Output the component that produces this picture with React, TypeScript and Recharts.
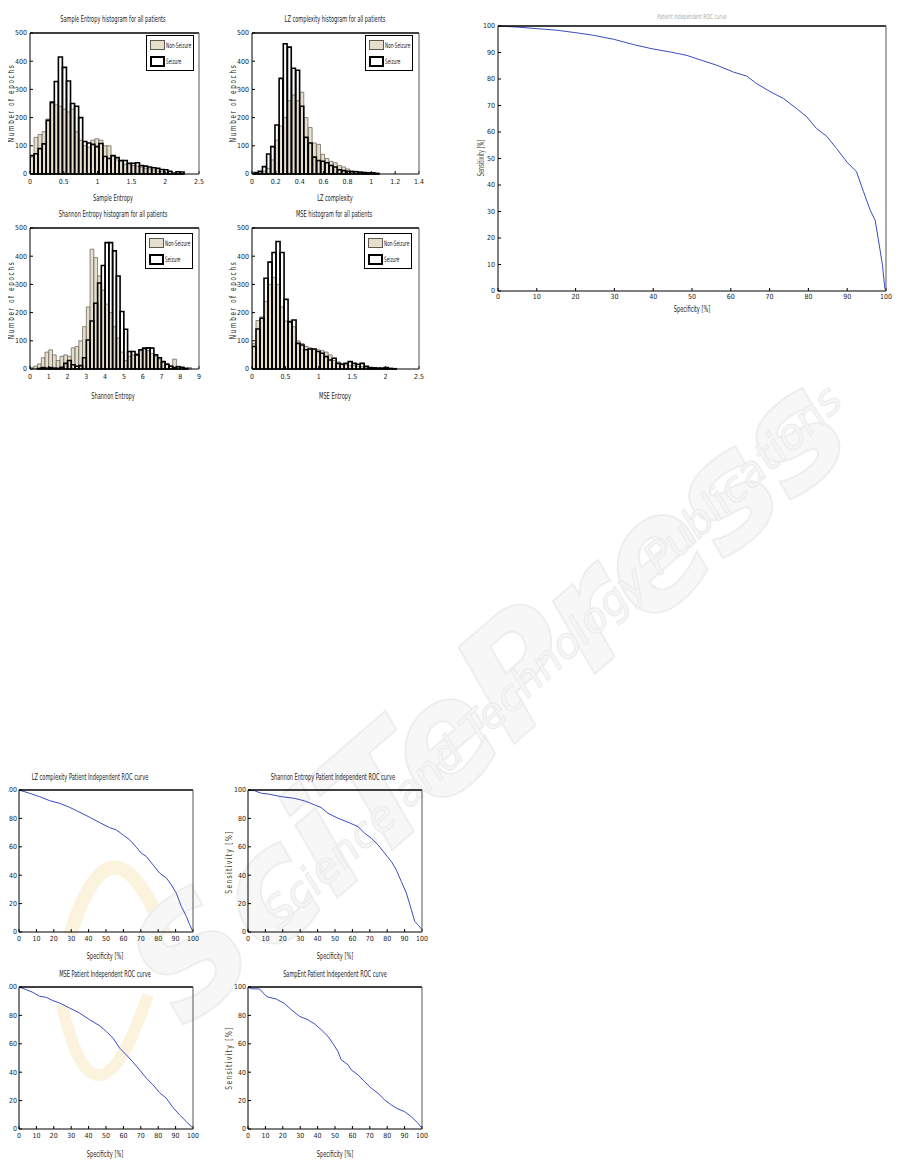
import React from "react"
import { BarChart, Bar, LineChart, Line, XAxis, YAxis } from "recharts"

const FONT = "'Liberation Sans Narrow', 'DejaVu Sans Condensed', 'Arial Narrow', sans-serif"
const TICK = { fontSize: 7, fill: "#222", fontFamily: FONT }

// ---- histogram data (bin centres + counts) ----
const sampBins = [0.03, 0.09, 0.15, 0.21, 0.27, 0.33, 0.39, 0.45, 0.51, 0.57, 0.63, 0.69, 0.75, 0.81, 0.87, 0.93, 0.99, 1.05, 1.11, 1.17, 1.23, 1.29, 1.35, 1.41, 1.47, 1.53, 1.59, 1.65, 1.71, 1.77, 1.83, 1.89, 1.95, 2.01, 2.07, 2.13, 2.19, 2.25]
const sampNon = [60, 130, 140, 150, 195, 250, 245, 240, 230, 220, 230, 150, 120, 100, 95, 120, 125, 120, 100, 100, 65, 50, 45, 35, 35, 30, 28, 25, 20, 18, 14, 10, 8, 5, 3, 2, 2, 1]
const sampSeiz = [65, 72, 90, 107, 190, 255, 328, 415, 378, 330, 250, 240, 200, 115, 110, 105, 97, 108, 62, 55, 65, 58, 48, 48, 38, 38, 40, 30, 28, 25, 22, 20, 16, 15, 10, 3, 8, 7]

const lzBins = [0.035, 0.07, 0.105, 0.14, 0.175, 0.21, 0.245, 0.28, 0.315, 0.35, 0.385, 0.42, 0.455, 0.49, 0.525, 0.56, 0.595, 0.63, 0.665, 0.7, 0.735, 0.77, 0.805, 0.84, 0.875, 0.91, 0.945, 0.98, 1.015, 1.05]
const lzNon = [3, 5, 10, 20, 50, 120, 170, 200, 260, 280, 260, 290, 200, 165, 110, 105, 70, 55, 45, 40, 30, 25, 18, 12, 10, 8, 6, 5, 4, 3]
const lzSeiz = [5, 10, 26, 71, 97, 174, 339, 462, 450, 375, 368, 240, 130, 110, 60, 48, 45, 40, 30, 25, 15, 12, 10, 8, 8, 6, 5, 4, 4, 2]

const shanBins = [0.1, 0.3, 0.5, 0.7, 0.9, 1.1, 1.3, 1.5, 1.7, 1.9, 2.1, 2.3, 2.5, 2.7, 2.9, 3.1, 3.3, 3.5, 3.7, 3.9, 4.1, 4.3, 4.5, 4.7, 4.9, 5.1, 5.3, 5.5, 5.7, 5.9, 6.1, 6.3, 6.5, 6.7, 6.9, 7.1, 7.3, 7.5, 7.7, 7.9, 8.1, 8.3, 8.5]
const shanNon = [5, 10, 18, 40, 60, 68, 50, 30, 45, 50, 45, 75, 80, 100, 150, 220, 425, 395, 330, 280, 230, 200, 150, 110, 60, 30, 45, 50, 55, 65, 70, 65, 55, 45, 35, 25, 20, 12, 35, 10, 5, 3, 5]
const shanSeiz = [0, 0, 2, 5, 3, 5, 3, 2, 6, 20, 30, 15, 10, 12, 40, 103, 170, 233, 305, 367, 448, 448, 419, 330, 204, 141, 62, 62, 50, 68, 74, 75, 74, 50, 40, 26, 17, 10, 5, 8, 6, 2, 0]

const mseBins = [0.03, 0.09, 0.15, 0.21, 0.27, 0.33, 0.39, 0.45, 0.51, 0.57, 0.63, 0.69, 0.75, 0.81, 0.87, 0.93, 0.99, 1.05, 1.11, 1.17, 1.23, 1.29, 1.35, 1.41, 1.47, 1.53, 1.59, 1.65, 1.71, 1.77, 1.83, 1.89, 1.95, 2.01, 2.07, 2.13]
const mseNon = [90, 172, 185, 240, 300, 325, 300, 220, 170, 165, 150, 100, 90, 80, 75, 70, 68, 65, 60, 50, 30, 25, 20, 15, 12, 12, 10, 8, 6, 5, 4, 3, 3, 2, 2, 1]
const mseSeiz = [80, 142, 180, 322, 379, 413, 452, 413, 247, 168, 174, 91, 85, 68, 71, 71, 62, 56, 44, 32, 38, 20, 17, 20, 26, 20, 17, 20, 10, 5, 4, 3, 3, 5, 2, 1]

const countTicks = [0, 100, 200, 300, 400, 500]

// ---- ROC data (specificity %, sensitivity %) ----
const allSpec = [0, 4.9, 10, 15.2, 19.9, 24.6, 29.8, 34.9, 39.7, 44.4, 48.7, 53, 56.4, 60.7, 64.1, 66.7, 70.1, 73.6, 77, 79.6, 82.1, 84.7, 87.3, 89.9, 92.4, 94.2, 95.9, 97.2, 98, 99.1, 99.7, 100]
const allSens = [100, 99.6, 99, 98.4, 97.5, 96.5, 95, 93, 91.4, 90.2, 88.9, 86.8, 85.2, 82.6, 81.1, 78.2, 75.3, 72.6, 68.8, 65.7, 61.3, 58.4, 53.7, 48.7, 45, 37.5, 30.6, 26.7, 19.7, 9.7, 0.9, 0]

const lzRocSpec = [0, 6.1, 11.9, 17.6, 23.4, 29.1, 34.9, 40.6, 46.4, 52.1, 55.9, 59.8, 63.6, 67.4, 70.3, 73.2, 77, 80.8, 84.7, 87.5, 90.4, 93.3, 96.2, 98.1, 100]
const lzRocSens = [100, 97.7, 95.3, 92.5, 90.6, 87.8, 84.3, 80.8, 77, 73.5, 71.9, 68.4, 64.9, 59.7, 55.5, 53.2, 47.3, 41.5, 38, 33.3, 27.4, 18, 11, 5.2, 0]

const shanRocSpec = [0, 3.8, 7.7, 11.5, 19.2, 26.8, 32.6, 38.3, 42.1, 46, 51.7, 57.5, 63.2, 67, 70.9, 74.7, 78.5, 82.4, 85.2, 88.1, 91, 93.9, 95.8, 97.7, 100]
const shanRocSens = [100, 99.5, 97.7, 97.2, 95.3, 94.1, 92.3, 89.5, 87.6, 83.6, 80.1, 77.3, 74.2, 69.6, 66, 61.4, 55.5, 49.6, 43.8, 35.6, 27.4, 15.7, 7.5, 5.2, 1.6]

const mseRocSpec = [0, 4.2, 8, 11.9, 15.7, 19.5, 23.4, 29.1, 34.9, 40.6, 46.4, 50.2, 54, 57.9, 61.7, 65.5, 69.3, 73.2, 77, 80.8, 84.7, 88.5, 92.3, 96.2, 100]
const mseRocSens = [100, 98.1, 96.2, 93.4, 92.7, 90.4, 88.7, 85.2, 81.6, 76.9, 72.7, 68.7, 64, 56.9, 52.2, 47.1, 41.6, 35.8, 31.1, 25.6, 21.6, 15.1, 9.9, 5.2, 0.5]

const sampRocSpec = [0, 1.9, 6.7, 9.6, 11.5, 16.3, 21.1, 24.9, 29.7, 34.5, 38.3, 42.1, 46, 48.9, 51.7, 53.6, 57.5, 59.4, 63.2, 67, 70.9, 74.7, 78.5, 82.4, 86.2, 90, 93.9, 97.7, 100]
const sampRocSens = [99.8, 98.8, 98.6, 94.6, 92.9, 91.5, 88.2, 84, 79.3, 76.9, 73.9, 69.9, 65.2, 60, 54.6, 48.7, 45.2, 41.6, 38.1, 33.4, 28.7, 25.2, 20.5, 16.9, 14.1, 12.2, 8.7, 4, 0.5]

const pctTicks10 = [0, 10, 20, 30, 40, 50, 60, 70, 80, 90, 100]
const pctTicks20 = [0, 20, 40, 60, 80, 100]

type Plot = { left: number; top: number; width: number; height: number }

const MT = 6
const MR = 6
const XH = 18

// chart box placed so that the plotting area lands on `p` (top/right axes take 1px)
function frame(p: Plot) {
  const yw = Math.min(34, p.left)
  return {
    yw,
    style: { position: "absolute", left: p.left - yw, top: p.top - MT - 1 } as React.CSSProperties,
    width: p.width + yw + MR + 1,
    height: p.height + MT + 1 + XH,
    margin: { top: MT, right: MR, bottom: 0, left: 0 },
  }
}

function Txt({ x, y, children, size = 8, rotate = 0, color = "#222", spacing = 0, sx = 0.7 }: any) {
  return (
    <div
      style={{
        position: "absolute",
        left: x,
        top: y,
        transform: `translate(-50%, -50%) rotate(${rotate}deg) scaleX(${sx})`,
        fontFamily: FONT,
        fontSize: size,
        color,
        letterSpacing: spacing,
        whiteSpace: "nowrap",
        lineHeight: 1,
      }}
    >
      {children}
    </div>
  )
}

function HistLegend({ left, top }: { left: number; top: number }) {
  const row: React.CSSProperties = { display: "flex", alignItems: "center", height: 16, marginLeft: 3, whiteSpace: "nowrap" }
  const lab: React.CSSProperties = { display: "inline-block", transform: "scaleX(0.62)", transformOrigin: "left center" }
  return (
    <div
      style={{
        position: "absolute",
        left,
        top,
        width: 48,
        height: 36,
        border: "1px solid #000",
        background: "#fff",
        boxSizing: "border-box",
        fontFamily: FONT,
        fontSize: 7.5,
        color: "#222",
        paddingTop: 1,
        overflow: "hidden",
      }}
    >
      <div style={row}>
        <span style={{ width: 15, height: 10, flex: "none", background: "#e6dfcd", border: "1px solid #5e5a50", boxSizing: "border-box", marginRight: 1 }} />
        <span style={lab}>Non-Seizure</span>
      </div>
      <div style={row}>
        <span style={{ width: 15, height: 11, flex: "none", background: "#fff", border: "2.5px solid #000", boxSizing: "border-box", marginRight: 1 }} />
        <span style={lab}>Seizure</span>
      </div>
    </div>
  )
}

function Histogram({ plot, bins, non, seiz, xMax, xTicks, barSize }: any) {
  const data = bins.map((b: number, i: number) => ({ x: b, non: non[i], seiz: seiz[i] }))
  const f = frame(plot)
  return (
    <div style={f.style}>
      <BarChart width={f.width} height={f.height} data={data} margin={f.margin}>
        <XAxis xAxisId="b" dataKey="x" type="number" domain={[0, xMax]} ticks={xTicks} interval={0} tickSize={-3} tickMargin={8} height={XH} tick={TICK} axisLine={{ stroke: "#000" }} tickLine={{ stroke: "#000" }} allowDataOverflow />
        <XAxis xAxisId="t" orientation="top" dataKey="x" type="number" domain={[0, xMax]} ticks={xTicks} interval={0} tickSize={-3} tick={false} height={1} axisLine={{ stroke: "#000", strokeWidth: 1.6 }} tickLine={{ stroke: "#000" }} allowDataOverflow />
        <YAxis yAxisId="l" type="number" domain={[0, 500]} ticks={countTicks} interval={0} width={f.yw} tickSize={-3} tickMargin={6} tick={TICK} axisLine={{ stroke: "#000" }} tickLine={{ stroke: "#000" }} />
        <YAxis yAxisId="r" orientation="right" type="number" domain={[0, 500]} ticks={countTicks} interval={0} width={1} tickSize={-3} tick={false} axisLine={{ stroke: "#555" }} tickLine={{ stroke: "#000" }} />
        <Bar xAxisId="b" yAxisId="l" dataKey="non" fill="#e6dfcd" stroke="#5e5a50" strokeWidth={0.7} barSize={barSize} isAnimationActive={false} />
        <Bar xAxisId="t" yAxisId="l" dataKey="seiz" fill="none" stroke="#000" strokeWidth={1.6} barSize={barSize} isAnimationActive={false} />
      </BarChart>
    </div>
  )
}

function Roc({ plot, spec, sens, yTicks, labelMargin, yMargin = 6 }: any) {
  const data = spec.map((s: number, i: number) => ({ spec: s, sens: sens[i] }))
  const f = frame(plot)
  return (
    <div style={f.style}>
      <LineChart width={f.width} height={f.height} data={data} margin={f.margin}>
        <XAxis xAxisId="b" dataKey="spec" type="number" domain={[0, 100]} ticks={pctTicks10} interval={0} tickSize={-3} tickMargin={labelMargin} height={XH} tick={TICK} axisLine={{ stroke: "#000" }} tickLine={{ stroke: "#000" }} />
        <XAxis xAxisId="t" orientation="top" dataKey="spec" type="number" domain={[0, 100]} ticks={pctTicks10} interval={0} tickSize={-3} tick={false} height={1} axisLine={{ stroke: "#000", strokeWidth: 1.6 }} tickLine={{ stroke: "#000" }} />
        <YAxis yAxisId="l" type="number" domain={[0, 100]} ticks={yTicks} interval={0} width={f.yw} tickSize={-3} tickMargin={yMargin} tick={TICK} axisLine={{ stroke: "#000" }} tickLine={{ stroke: "#000" }} />
        <YAxis yAxisId="r" orientation="right" type="number" domain={[0, 100]} ticks={yTicks} interval={0} width={1} tickSize={-3} tick={false} axisLine={{ stroke: "#555" }} tickLine={{ stroke: "#000" }} />
        <Line xAxisId="b" yAxisId="l" type="linear" dataKey="sens" stroke="#3a4cc0" strokeWidth={1} dot={false} isAnimationActive={false} />
      </LineChart>
    </div>
  )
}

export default function App() {
  return (
    <div style={{ position: "relative", width: 915, height: 1172 }}>
      {/* faint publisher watermark behind the figures */}
      <svg width={915} height={1172} style={{ position: "absolute", left: -8, top: -8 }}>
        <path d="M 70 935 Q 112 800 165 935" fill="none" stroke="#fcf3de" strokeWidth={14} />
        <path d="M 62 1005 Q 95 1150 148 995" fill="none" stroke="#fcf3de" strokeWidth={12} />
        <text x={185} y={1030} transform="rotate(-41 185 1030)" fontSize={150} fontFamily="DejaVu Sans" fontWeight="bold" fontStyle="italic" fill="#f7f7f7" stroke="#eeeeee" strokeWidth={2}>
          SciTePress
        </text>
        <text x={280} y={930} transform="rotate(-43 280 930)" fontSize={42} fontFamily="DejaVu Sans" fontStyle="italic" fill="#f6f6f6" stroke="#ececec" strokeWidth={1}>
          Science and Technology Publications
        </text>
      </svg>

      <div style={{ position: "absolute", left: -8, top: -8, width: 915, height: 1172 }}>
        {/* histograms */}
        <Txt x={113} y={20}>Sample Entropy histogram for all patients</Txt>
        <Histogram plot={{ left: 30, top: 33, width: 169, height: 141 }} bins={sampBins} non={sampNon} seiz={sampSeiz} xMax={2.5} xTicks={[0, 0.5, 1, 1.5, 2, 2.5]} barSize={4} />
        <HistLegend left={146} top={35} />
        <Txt x={113} y={199}>Sample Entropy</Txt>
        <Txt x={12} y={103} rotate={-90} spacing={2} sx={0.8}>Number of epochs</Txt>

        <Txt x={335} y={20}>LZ complexity histogram for all patients</Txt>
        <Histogram plot={{ left: 252, top: 33, width: 167, height: 141 }} bins={lzBins} non={lzNon} seiz={lzSeiz} xMax={1.4} xTicks={[0, 0.2, 0.4, 0.6, 0.8, 1, 1.2, 1.4]} barSize={4.2} />
        <HistLegend left={365} top={35} />
        <Txt x={335} y={199}>LZ complexity</Txt>
        <Txt x={234} y={103} rotate={-90} spacing={2} sx={0.8}>Number of epochs</Txt>

        <Txt x={113} y={215}>Shannon Entropy histogram for all patients</Txt>
        <Histogram plot={{ left: 30, top: 228, width: 169, height: 141 }} bins={shanBins} non={shanNon} seiz={shanSeiz} xMax={9} xTicks={[0, 1, 2, 3, 4, 5, 6, 7, 8, 9]} barSize={3.7} />
        <HistLegend left={145} top={233} />
        <Txt x={113} y={397}>Shannon Entropy</Txt>
        <Txt x={12} y={300} rotate={-90} spacing={2} sx={0.8}>Number of epochs</Txt>

        <Txt x={334} y={215}>MSE histogram for all patients</Txt>
        <Histogram plot={{ left: 252, top: 228, width: 167, height: 141 }} bins={mseBins} non={mseNon} seiz={mseSeiz} xMax={2.5} xTicks={[0, 0.5, 1, 1.5, 2, 2.5]} barSize={4} />
        <HistLegend left={364} top={233} />
        <Txt x={335} y={397}>MSE Entropy</Txt>
        <Txt x={234} y={300} rotate={-90} spacing={2} sx={0.8}>Number of epochs</Txt>

        {/* big ROC */}
        <Txt x={692} y={17} size={7} color="#aaa">Patient Independent ROC curve</Txt>
        <Roc plot={{ left: 498, top: 26, width: 388, height: 265 }} spec={allSpec} sens={allSens} yTicks={pctTicks10} labelMargin={6} />
        <Txt x={692} y={310}>Specificity [%]</Txt>
        <Txt x={482} y={158} rotate={-90} color="#4a3b2c">Sensitivity [%]</Txt>

        {/* small ROCs */}
        <Txt x={90} y={778}>LZ complexity Patient Independent ROC curve</Txt>
        <Roc plot={{ left: 19, top: 790, width: 174, height: 142 }} spec={lzRocSpec} sens={lzRocSens} yTicks={pctTicks20} labelMargin={7} yMargin={5} />
        <Txt x={105} y={957}>Specificity [%]</Txt>
        <Txt x={4} y={862} rotate={-90} spacing={1.5} color="#4a3b2c" sx={0.85}>Sensitivity [%]</Txt>

        <Txt x={333} y={778}>Shannon Entropy Patient Independent ROC curve</Txt>
        <Roc plot={{ left: 248, top: 790, width: 174, height: 142 }} spec={shanRocSpec} sens={shanRocSens} yTicks={pctTicks20} labelMargin={7} yMargin={5} />
        <Txt x={335} y={957}>Specificity [%]</Txt>
        <Txt x={230} y={862} rotate={-90} spacing={1.5} color="#4a3b2c" sx={0.85}>Sensitivity [%]</Txt>

        <Txt x={105} y={975}>MSE Patient Independent ROC curve</Txt>
        <Roc plot={{ left: 19, top: 987, width: 174, height: 142 }} spec={mseRocSpec} sens={mseRocSens} yTicks={pctTicks20} labelMargin={7} yMargin={5} />
        <Txt x={105} y={1155}>Specificity [%]</Txt>
        <Txt x={4} y={1058} rotate={-90} spacing={1.5} color="#4a3b2c" sx={0.85}>Sensitivity [%]</Txt>

        <Txt x={335} y={975}>SampEnt Patient Independent ROC curve</Txt>
        <Roc plot={{ left: 248, top: 987, width: 174, height: 142 }} spec={sampRocSpec} sens={sampRocSens} yTicks={pctTicks20} labelMargin={7} yMargin={5} />
        <Txt x={335} y={1155}>Specificity [%]</Txt>
        <Txt x={230} y={1058} rotate={-90} spacing={1.5} color="#4a3b2c" sx={0.85}>Sensitivity [%]</Txt>
      </div>
    </div>
  )
}
